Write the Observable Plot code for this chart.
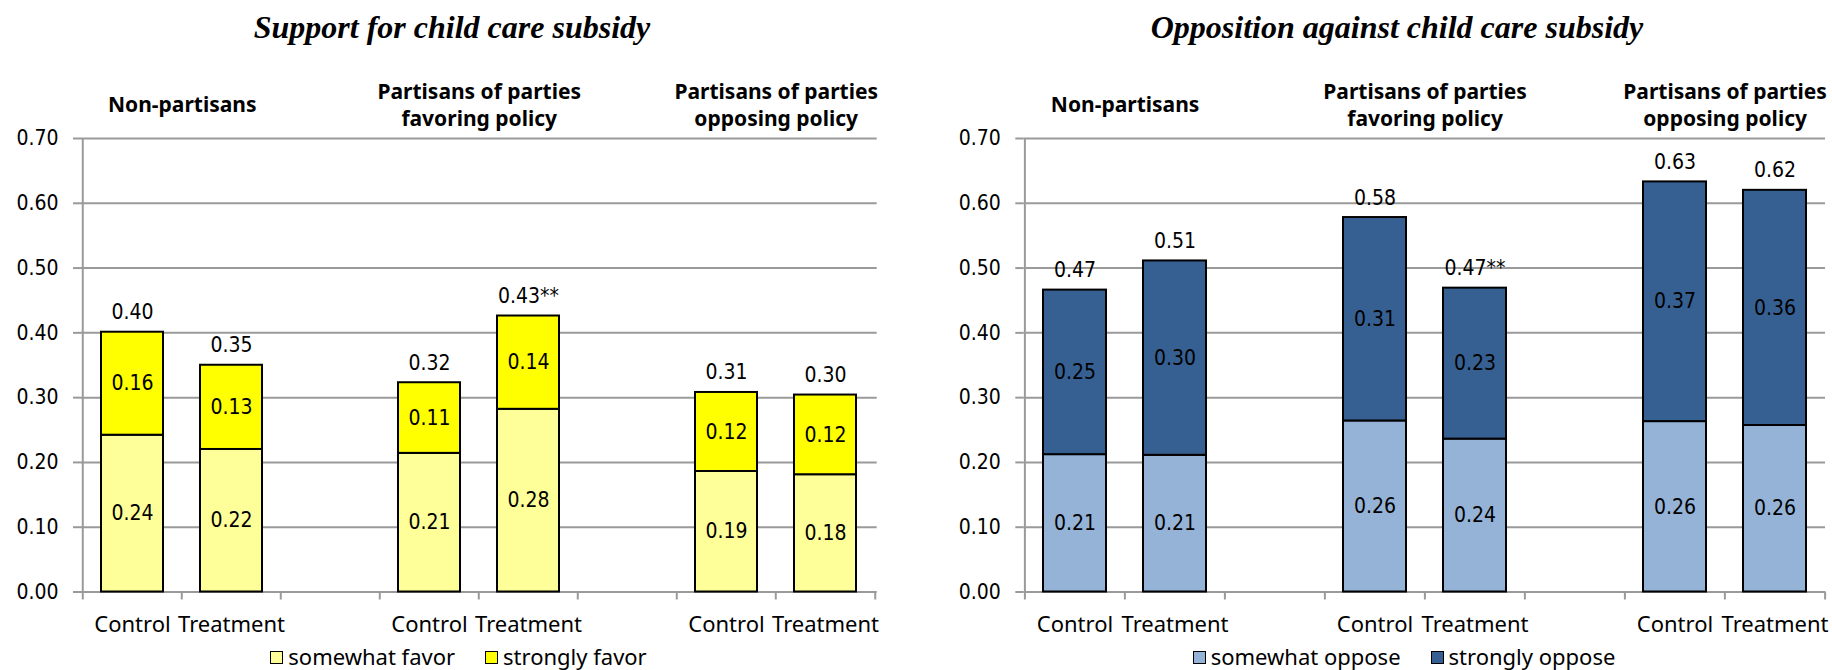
<!DOCTYPE html>
<html>
<head>
<meta charset="utf-8">
<script src="https://cdn.jsdelivr.net/npm/d3@7"></script>
<script src="https://cdn.jsdelivr.net/npm/@observablehq/plot@0.6"></script>
<style>
  html, body { margin: 0; padding: 0; background: #fff; }
  #root { position: relative; width: 1832px; height: 670px; overflow: hidden; background: #fff; }
  .title { position: absolute; top: 9px; font-family: "Liberation Serif", "Times New Roman", serif; font-weight: bold; font-style: italic; font-size: 32px; line-height: 36px; text-align: center; white-space: nowrap; color: #000; }
  .panel { position: absolute; top: 60px; }
  .legend { position: absolute; top: 644px; height: 24px; display: flex; justify-content: center; align-items: flex-start; font-family: "Noto Sans", sans-serif; font-size: 22px; line-height: 24px; white-space: nowrap; color: #000; }
  .item { display: flex; align-items: flex-start; margin: 0 15px; }
  .sw { display: inline-block; width: 11px; height: 11px; border: 1.5px solid #000; margin-right: 5px; position: relative; top: 7px; }
</style>
</head>
<body>
<div id="root"></div>
<script>
// ---------- data ----------
const slots = ["np-c", "np-t", "gap-1", "fav-c", "fav-t", "gap-2", "opp-c", "opp-t"];
const slotLabels = ["Control", "Treatment", "", "Control", "Treatment", "", "Control", "Treatment"];
const barSlots = ["np-c", "np-t", "fav-c", "fav-t", "opp-c", "opp-t"];
const groupLabels = ["Non-partisans", "Partisans of parties\nfavoring policy", "Partisans of parties\nopposing policy"];
const groupFirstSlot = ["np-c", "fav-c", "opp-c"];
const yTicks = [0, 0.1, 0.2, 0.3, 0.4, 0.5, 0.6, 0.7];

const supportTitle = "Support for child care subsidy";
const supportLevels = ["somewhat favor", "strongly favor"];
const supportColors = ["#FFFF99", "#FFFF00"];
const somewhatFavor = [0.242, 0.220, 0.214, 0.282, 0.186, 0.181];
const stronglyFavor = [0.159, 0.130, 0.109, 0.144, 0.122, 0.123];
const supportStars = ["", "", "", "**", "", ""];

const oppositionTitle = "Opposition against child care subsidy";
const oppositionLevels = ["somewhat oppose", "strongly oppose"];
const oppositionColors = ["#95B3D7", "#366092"];
const somewhatOppose = [0.212, 0.211, 0.264, 0.236, 0.263, 0.257];
const stronglyOppose = [0.254, 0.300, 0.314, 0.233, 0.370, 0.363];
const oppositionStars = ["", "", "", "**", "", ""];

// ---------- drawing ----------
const fmt = d3.format(".2f");
const gray = "#9a9a9a";
const numFont = "'DejaVu Sans Condensed', 'DejaVu Sans', sans-serif";
const labFont = "'Noto Sans', sans-serif";

function makePanel({width, marginLeft, marginRight, levels, colors, lower, upper, stars}) {
  const height = 585, marginTop = 78, marginBottom = 53.5;
  const step = (width - marginLeft - marginRight) / slots.length;
  const segs = [];
  barSlots.forEach((s, i) => {
    segs.push({slot: s, level: levels[0], value: lower[i], mid: lower[i] / 2});
    segs.push({slot: s, level: levels[1], value: upper[i], mid: lower[i] + upper[i] / 2});
  });
  const totals = barSlots.map((s, i) => ({slot: s, total: lower[i] + upper[i], label: fmt(lower[i] + upper[i]) + stars[i]}));
  const groups = groupLabels.map((g, i) => ({slot: groupFirstSlot[i], label: g}));
  return Plot.plot({
    width, height, marginTop, marginRight, marginBottom, marginLeft,
    style: {fontFamily: numFont, fontSize: "21px", background: "transparent", overflow: "visible", color: "#000"},
    x: {type: "band", domain: slots, paddingInner: 0.37, paddingOuter: 0.185, align: 0.5, label: null},
    y: {domain: [0, 0.7], label: null},
    color: {domain: levels, range: colors},
    marks: [
      Plot.ruleY(yTicks, {stroke: gray, strokeWidth: 2}),
      Plot.ruleX([slots[0]], {x: d => d, dx: -step / 2, y1: 0, y2: 0.7, stroke: gray, strokeWidth: 2}),
      Plot.axisY({ticks: yTicks, tickSize: 8, tickPadding: 15, tickFormat: ".2f", stroke: gray, strokeWidth: 2, fontSize: 21, fontFamily: numFont, label: null}),
      Plot.axisX({ticks: slots, tickSize: 8, tickFormat: () => "", dx: -step / 2, stroke: gray, strokeWidth: 2, label: null}),
      Plot.axisX({ticks: [slots[slots.length - 1]], tickSize: 8, tickFormat: () => "", dx: step / 2, stroke: gray, strokeWidth: 2, label: null}),
      Plot.axisX({ticks: slots, tickSize: 0, tickPadding: 24, tickFormat: d => slotLabels[slots.indexOf(d)], fontSize: 22, fontFamily: labFont, label: null}),
      Plot.barY(segs, {x: "slot", y: "value", fill: "level", stroke: "#000", strokeWidth: 2}),
      Plot.text(segs, {x: "slot", y: "mid", text: d => fmt(d.value), fontSize: 21, fontFamily: numFont, fill: "#000"}),
      Plot.text(totals, {x: "slot", y: "total", text: "label", dy: -13, lineAnchor: "bottom", fontSize: 21, fontFamily: numFont, fill: "#000"}),
      Plot.text(groups, {x: "slot", y: () => 0.7, text: "label", dx: step / 2, dy: -35, lineAnchor: "middle", lineHeight: 1.32, fontSize: 21, fontWeight: "bold", fontFamily: labFont, fill: "#000"})
    ]
  });
}

function makeLegend(levels, colors, left, width) {
  const div = document.createElement("div");
  div.className = "legend";
  div.style.left = left + "px";
  div.style.width = width + "px";
  levels.forEach((l, i) => {
    const item = document.createElement("span");
    item.className = "item";
    const sw = document.createElement("span");
    sw.className = "sw";
    sw.style.background = colors[i];
    item.appendChild(sw);
    item.appendChild(document.createTextNode(l));
    div.appendChild(item);
  });
  return div;
}

function makeTitle(text, left, width) {
  const div = document.createElement("div");
  div.className = "title";
  div.style.left = left + "px";
  div.style.width = width + "px";
  div.textContent = text;
  return div;
}

const root = document.getElementById("root");
root.appendChild(makeTitle(supportTitle, 0, 904));
root.appendChild(makeTitle(oppositionTitle, 916, 962));

const left = document.createElement("div");
left.className = "panel"; left.style.left = "0px";
left.appendChild(makePanel({width: 916, marginLeft: 81, marginRight: 39.3, levels: supportLevels, colors: supportColors, lower: somewhatFavor, upper: stronglyFavor, stars: supportStars}));
root.appendChild(left);

const right = document.createElement("div");
right.className = "panel"; right.style.left = "916px";
right.appendChild(makePanel({width: 916, marginLeft: 107.3, marginRight: 7, levels: oppositionLevels, colors: oppositionColors, lower: somewhatOppose, upper: stronglyOppose, stars: oppositionStars}));
root.appendChild(right);

root.appendChild(makeLegend(supportLevels, supportColors, 0, 917));
root.appendChild(makeLegend(oppositionLevels, oppositionColors, 916, 976));
</script>
</body>
</html>
